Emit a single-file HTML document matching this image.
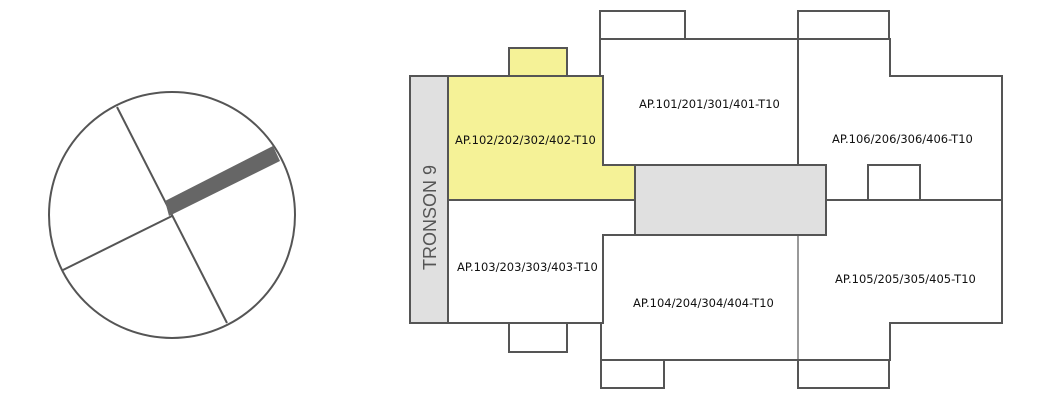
<!DOCTYPE html>
<html><head><meta charset="utf-8"><style>
html,body{margin:0;padding:0;background:#fff;width:1062px;height:402px;overflow:hidden}
svg{display:block}
text{font-family:"DejaVu Sans","Liberation Sans",sans-serif;font-size:11.5px;fill:#111}
</style></head><body>
<svg width="1062" height="402" viewBox="0 0 1062 402">
<g stroke="#555" fill="none">
<circle cx="172" cy="215" r="123" fill="#fff" stroke-width="2"/>
<line x1="117" y1="107" x2="227" y2="323" stroke-width="2"/>
<line x1="63" y1="270" x2="172" y2="216" stroke-width="2"/>
</g>
<polygon points="165,201 169,216 280,161 273,146" fill="#666"/>

<g stroke="#555" stroke-width="2">
<rect x="410" y="76" width="38" height="247" fill="#e0e0e0"/>
<rect x="509" y="48" width="58" height="28" fill="#f5f297"/>
<polygon points="448,76 603,76 603,165 635,165 635,200 448,200" fill="#f5f297"/>
<polygon points="448,200 635,200 635,235 603,235 603,323 448,323" fill="#fff"/>
<rect x="509" y="323" width="58" height="29" fill="#fff"/>
<rect x="600" y="11" width="85" height="28" fill="#fff"/>
<rect x="798" y="11" width="91" height="28" fill="#fff"/>
<rect x="601" y="360" width="63" height="28" fill="#fff"/>
<rect x="798" y="360" width="91" height="28" fill="#fff"/>
<polygon points="600,39 798,39 798,165 603,165 603,76 600,76" fill="#fff"/>
<polygon points="798,39 890,39 890,76 1002,76 1002,200 920,200 920,165 868,165 868,200 826,200 826,165 798,165" fill="#fff"/>
<polygon points="603,235 826,235 826,200 1002,200 1002,323 890,323 890,360 601,360 601,323 603,323" fill="#fff"/>
<rect x="635" y="165" width="191" height="70" fill="#e0e0e0"/>
</g>
<g stroke="#555" stroke-width="1.2">
<line x1="798" y1="235" x2="798" y2="360"/>
<line x1="798" y1="39" x2="798" y2="165"/>
</g>
<text x="455" y="144">AP.102/202/302/402-T10</text>
<text x="457" y="271">AP.103/203/303/403-T10</text>
<text x="639" y="108">AP.101/201/301/401-T10</text>
<text x="633" y="307">AP.104/204/304/404-T10</text>
<text x="832" y="143">AP.106/206/306/406-T10</text>
<text x="835" y="283">AP.105/205/305/405-T10</text>
<text transform="translate(436,270) rotate(-90)" style="font-family:'Liberation Sans',sans-serif;font-size:18px;fill:#555">TRONSON 9</text>
</svg>
</body></html>
